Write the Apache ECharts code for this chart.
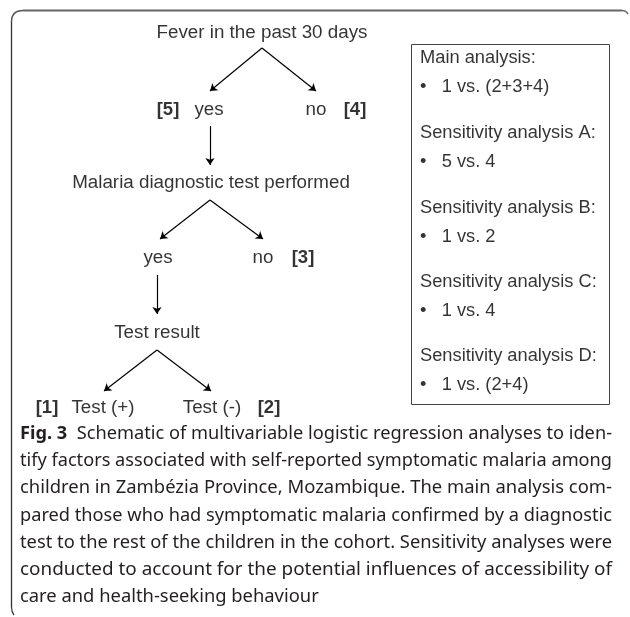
<!DOCTYPE html>
<html>
<head>
<meta charset="utf-8">
<script src="https://cdn.jsdelivr.net/npm/echarts@6/dist/echarts.min.js"></script>
<style>
  html, body { margin: 0; padding: 0; background: #fff; }
  #main { width: 630px; height: 617px; }
</style>
</head>
<body>
<div id="main"></div>
<script>
// flowchart nodes (diagram units = page pixels)
const flowLabels = ['Fever in the past 30 days', 'yes', 'no', 'Malaria diagnostic test performed', 'yes', 'no', 'Test result', 'Test (+)', 'Test (-)']
const flowX = [262, 209, 316, 211, 158, 263, 157, 103, 212]
const flowY = [33, 110, 110, 183, 258, 258, 333, 408, 408]

// group numbers in brackets
const groupTags = ['[5]', '[4]', '[3]', '[1]', '[2]']
const groupX = [168, 355, 303, 47, 269]
const groupY = [110, 110, 258, 408, 408]

// arrows: start and end points
const arrowFrom = [[262, 48], [262, 48], [210, 126], [210, 200], [210, 200], [157, 275], [157, 350], [157, 350]]
const arrowTo = [[210, 91], [316, 91], [210, 165], [160, 239], [263, 239], [157, 314], [104, 391], [211, 391]]

// analysis box
const analysisNames = ['Main analysis:', 'Sensitivity analysis A:', 'Sensitivity analysis B:', 'Sensitivity analysis C:', 'Sensitivity analysis D:']
const analysisCompare = ['1 vs. (2+3+4)', '5 vs. 4', '1 vs. 2', '1 vs. 4', '1 vs. (2+4)']
const analysisY = [58, 133, 208, 282, 356]

// caption
const captionLines = [
  'Schematic of multivariable logistic regression analyses to iden-',
  'tify factors associated with self-reported symptomatic malaria among',
  'children in Zambézia Province, Mozambique. The main analysis com-',
  'pared those who had symptomatic malaria confirmed by a diagnostic',
  'test to the rest of the children in the cohort. Sensitivity analyses were',
  'conducted to account for the potential influences of accessibility of',
  'care and health-seeking behaviour'
]

const FLOW_FONT = 'Liberation Sans'
const CAP_FONT = 'Noto Sans'
const CAP_SIZE = 17.5

const myChart = echarts.init(document.getElementById('main'))

// measure text so justified caption lines fill the width
const ctx = document.createElement('canvas').getContext('2d')
function textWidth(txt, weight) {
  ctx.font = (weight || 'normal') + ' ' + CAP_SIZE + 'px "' + CAP_FONT + '"'
  return ctx.measureText(txt).width
}

const graphics = [
  {
    type: 'polyline',
    shape: { points: [[11.5, 607], [11.5, 22]] },
    style: { stroke: '#333', lineWidth: 1.3, fill: null }
  },
  {
    type: 'bezierCurve',
    shape: { x1: 11.5, y1: 22, cpx1: 11.5, cpy1: 10.5, x2: 23, y2: 10.5 },
    style: { stroke: '#555', lineWidth: 1.5, fill: null }
  },
  {
    type: 'polyline',
    shape: { points: [[23, 10.5], [622, 10.5]] },
    style: { stroke: '#666', lineWidth: 1.8, fill: null }
  },
  {
    type: 'bezierCurve',
    shape: { x1: 622, y1: 10.5, cpx1: 626, cpy1: 10.5, x2: 628, y2: 14 },
    style: { stroke: '#666', lineWidth: 1.5, fill: null }
  },
  {
    type: 'bezierCurve',
    shape: { x1: 11.5, y1: 607, cpx1: 11.5, cpy1: 612, x2: 14, y2: 615 },
    style: { stroke: '#333', lineWidth: 1.2, fill: null }
  },
  {
    type: 'rect',
    shape: { x: 411.5, y: 44.5, width: 198, height: 360 },
    style: { stroke: '#444', lineWidth: 1, fill: null }
  }
]

let scaleSum = 0
captionLines.forEach((line, i) => {
  const y = 434 + i * 27.2
  const last = i === captionLines.length - 1
  if (i === 0) {
    const full = textWidth('Fig. 3', 'bold') + textWidth('  ' + line)
    scaleSum += 592 / full
    graphics.push({
      type: 'text',
      x: 20,
      y: y,
      scaleX: 592 / full,
      style: {
        text: '{b|Fig. 3}  ' + line,
        font: CAP_SIZE + 'px "' + CAP_FONT + '"',
        fill: '#231f20',
        verticalAlign: 'middle',
        rich: { b: { fontWeight: 'bold', fontSize: CAP_SIZE, fontFamily: CAP_FONT, fill: '#231f20' } }
      }
    })
  } else {
    const s = last ? scaleSum / (captionLines.length - 1) : 592 / textWidth(line)
    scaleSum += s
    graphics.push({
      type: 'text',
      x: 20,
      y: y,
      scaleX: s,
      style: {
        text: line,
        font: CAP_SIZE + 'px "' + CAP_FONT + '"',
        fill: '#231f20',
        verticalAlign: 'middle'
      }
    })
  }
})

const flowData = flowLabels.map((t, i) => [flowX[i], flowY[i], t])
const tagData = groupTags.map((t, i) => [groupX[i], groupY[i], t])
const boxData = []
analysisNames.forEach((name, i) => {
  boxData.push([420, analysisY[i], name])
  boxData.push([420, analysisY[i] + 29, '•   ' + analysisCompare[i]])
})
const arrowData = arrowFrom.map((p, i) => ({ coords: [p, arrowTo[i]] }))

const textLabel = (align, weight, size) => ({
  show: true,
  position: 'inside',
  formatter: (p) => p.data[2],
  color: '#000',
  fontFamily: FLOW_FONT,
  fontSize: size,
  fontWeight: weight,
  align: align,
  verticalAlign: 'middle'
})

myChart.setOption({
  animation: false,
  grid: { left: 0, right: 0, top: 0, bottom: 0 },
  xAxis: { type: 'value', min: 0, max: 630, show: false, splitLine: { show: false } },
  yAxis: { type: 'value', min: 0, max: 617, inverse: true, show: false, splitLine: { show: false } },
  graphic: graphics,
  series: [
    {
      type: 'lines',
      coordinateSystem: 'cartesian2d',
      symbol: ['none', 'arrow'],
      symbolSize: 7,
      lineStyle: { color: '#000', width: 1.2, opacity: 1 },
      data: arrowData
    },
    {
      type: 'scatter',
      symbolSize: 0,
      itemStyle: { color: 'transparent' },
      label: textLabel('center', 'normal', 18.8),
      data: flowData
    },
    {
      type: 'scatter',
      symbolSize: 0,
      itemStyle: { color: 'transparent' },
      label: textLabel('center', 'bold', 18.5),
      data: tagData
    },
    {
      type: 'scatter',
      symbolSize: 0,
      itemStyle: { color: 'transparent' },
      label: textLabel('left', 'normal', 18.3),
      data: boxData
    }
  ]
})

window.addEventListener('resize', () => {
  myChart.resize()
})
</script>
</body>
</html>
